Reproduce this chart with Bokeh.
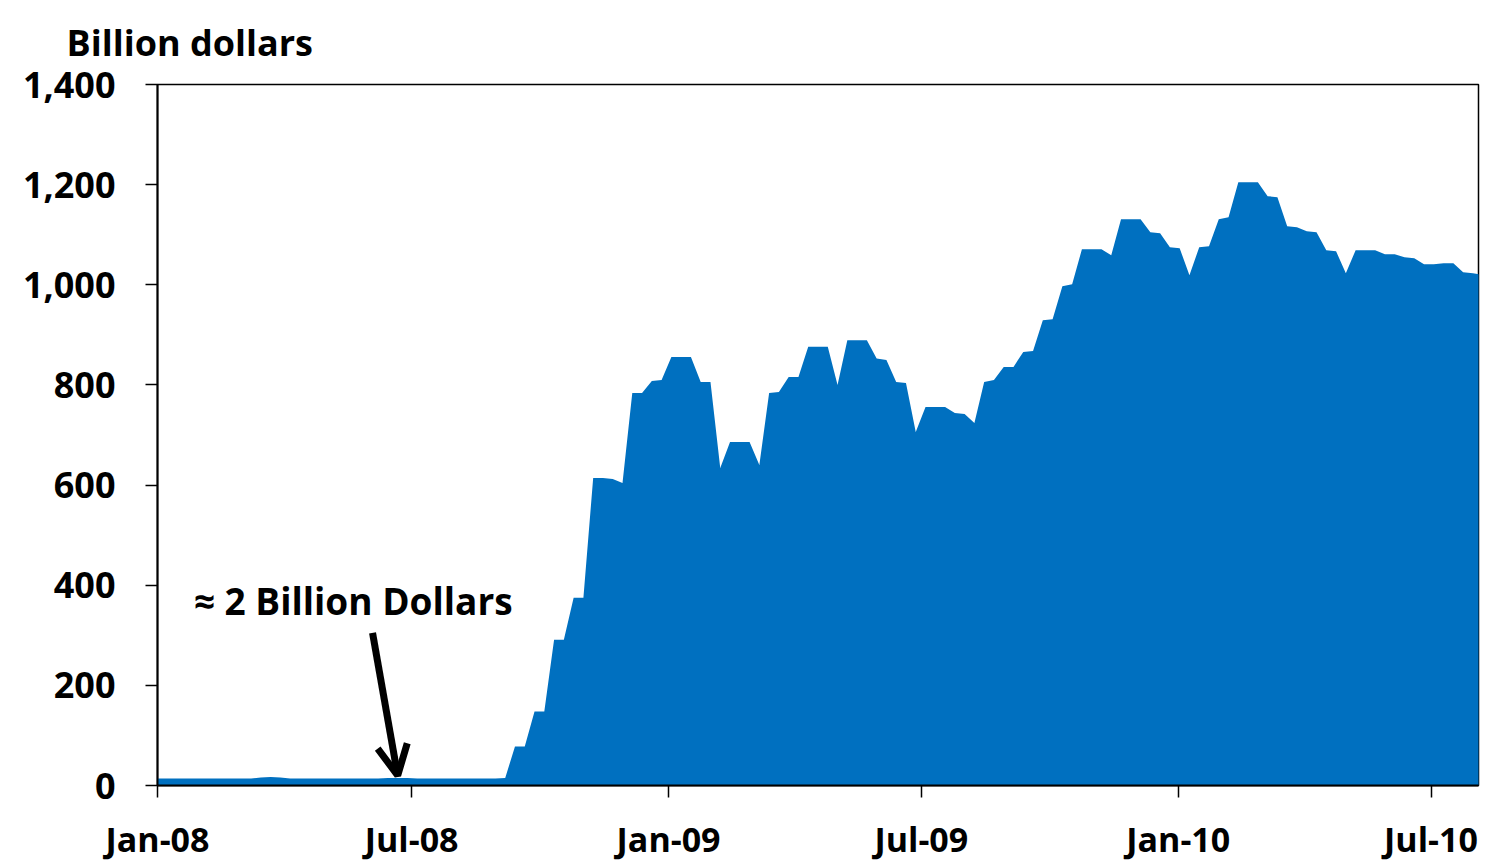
import pandas as pd
from bokeh.plotting import figure
from bokeh.models import (ColumnDataSource, Range1d, FixedTicker, NumeralTickFormatter,
                          Arrow, OpenHead, Label, Title)
from bokeh.embed import file_html
from bokeh.resources import INLINE

# ---- data (weekly, billions of dollars) ----
start_date = "2008-01-05"
low_values = [14, 14, 14, 14, 14, 14, 14, 14, 14, 14,
              16, 17, 16, 14, 14, 14, 14, 14, 14, 14,
              14, 14, 14, 15, 15, 15, 14, 14, 14, 14,
              14, 14, 14, 14, 14, 15]
high_values = [78, 78, 148, 148, 291, 291, 375, 375, 614, 614,
               612, 604, 784, 784, 808, 810, 856, 856, 856, 806,
               806, 634, 686, 686, 686, 640, 784, 786, 816, 816,
               876, 876, 876, 800, 889, 889, 889, 853, 850, 806,
               804, 706, 756, 756, 756, 744, 742, 724, 806, 810,
               836, 836, 866, 868, 929, 931, 997, 1001, 1071, 1071,
               1071, 1059, 1131, 1131, 1131, 1105, 1103, 1075, 1073, 1019,
               1075, 1077, 1131, 1135, 1205, 1205, 1205, 1177, 1175, 1117,
               1115, 1107, 1105, 1069, 1067, 1023, 1069, 1069, 1069, 1061,
               1061, 1055, 1053, 1041, 1041, 1043, 1043, 1025, 1023, 1020]
values = low_values + high_values
dates = pd.date_range(start_date, periods=len(values), freq="7D")

x_start, x_end = "2008-01-01", "2010-08-04"
tick_dates = ["2008-01-01", "2008-07-01", "2009-01-01", "2009-07-01", "2010-01-01", "2010-07-01"]
tick_labels = ["Jan-08", "Jul-08", "Jan-09", "Jul-09", "Jan-10", "Jul-10"]
y_ticks = [0, 200, 400, 600, 800, 1000, 1200, 1400]

annotation_text = "\u2248 2 Billion Dollars"
title_text = "Billion dollars"


def ms(d):
    return pd.Timestamp(d).value / 1e6


FONT = "Open Sans"
BLUE = "#0070C0"

# the area is carried flat back to the left edge of the axis
area_x = [ms(x_start)] + [ms(d) for d in dates]
area_y = [values[0]] + values
source = ColumnDataSource(dict(date=area_x, value=area_y))

p = figure(width=1487, height=864, x_axis_type="datetime",
           x_range=Range1d(ms(x_start), ms(x_end)),
           y_range=Range1d(0, 1400),
           output_backend="svg", toolbar_location=None,
           min_border_left=157, min_border_right=9, min_border_top=84,
           min_border_bottom=78)

p.varea(x="date", y1=0, y2="value", source=source, fill_color=BLUE, fill_alpha=1.0)

p.xgrid.visible = False
p.ygrid.visible = False
p.background_fill_color = "white"
p.border_fill_color = "white"
p.outline_line_color = "black"
p.outline_line_width = 1.5

xt = [ms(d) for d in tick_dates]
p.xaxis.ticker = FixedTicker(ticks=xt)
p.xaxis.major_label_overrides = {t: l for t, l in zip(xt, tick_labels)}
p.xaxis.minor_tick_line_color = None
p.xaxis.major_tick_in = 0
p.xaxis.major_tick_out = 12
p.xaxis.major_label_standoff = 18
p.xaxis.axis_line_color = "black"
p.xaxis.axis_line_width = 2
p.xaxis.major_tick_line_color = "black"
p.xaxis.major_tick_line_width = 1.5
p.xaxis.major_label_text_font = FONT
p.xaxis.major_label_text_font_style = "bold"
p.xaxis.major_label_text_font_size = "34px"
p.xaxis.major_label_text_color = "black"

p.yaxis.ticker = FixedTicker(ticks=y_ticks)
p.yaxis.formatter = NumeralTickFormatter(format="0,0")
p.yaxis.minor_tick_line_color = None
p.yaxis.major_tick_in = 0
p.yaxis.major_tick_out = 12
p.yaxis.major_label_standoff = 30
p.yaxis.axis_line_color = "black"
p.yaxis.axis_line_width = 2
p.yaxis.major_tick_line_color = "black"
p.yaxis.major_tick_line_width = 1.5
p.yaxis.major_label_text_font = FONT
p.yaxis.major_label_text_font_style = "bold"
p.yaxis.major_label_text_font_size = "36px"
p.yaxis.major_label_text_color = "black"

p.title = Title(text=title_text, align="left", offset=-91,
                text_font=FONT, text_font_style="bold", text_font_size="36px",
                text_color="black", standoff=0)
# blank spacer between the unit label and the frame
p.add_layout(Title(text=" ", text_font_size="14px", standoff=0), "above")

p.add_layout(Label(x=ms("2008-01-27"), y=369, text=annotation_text,
                   text_font=FONT, text_font_style="bold", text_font_size="37px",
                   text_color="black", text_align="left", text_baseline="middle"))

p.add_layout(Arrow(x_start=ms("2008-06-03"), y_start=305,
                   x_end=ms("2008-06-21"), y_end=20,
                   line_color="black", line_width=7,
                   end=OpenHead(line_color="black", line_width=7, size=30)))

open("out.html", "w").write(file_html(p, INLINE))
